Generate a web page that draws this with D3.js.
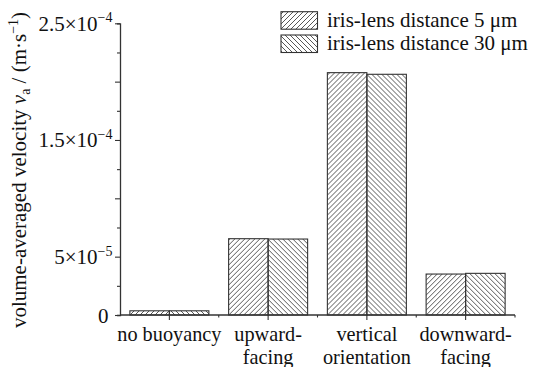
<!DOCTYPE html>
<html>
<head>
<meta charset="utf-8">
<script src="https://cdn.jsdelivr.net/npm/d3@7"></script>
<style>
  html, body { margin: 0; padding: 0; background: #fff; }
  svg { display: block; font-family: "Liberation Serif", "Times New Roman", serif; }
</style>
</head>
<body>
<svg id="chart" width="533" height="367"></svg>
<script>
// Chart data
const categories = [["no buoyancy"], ["upward-", "facing"], ["vertical", "orientation"], ["downward-", "facing"]];
const seriesNames = ["iris-lens distance 5 \u03bcm", "iris-lens distance 30 \u03bcm"];
const values5um = [3.6e-6, 6.54e-5, 2.077e-4, 3.51e-5];
const values30um = [3.6e-6, 6.51e-5, 2.063e-4, 3.57e-5];
const yTicks = [0, 2.5e-5, 5e-5, 7.5e-5, 1e-4, 1.25e-4, 1.5e-4, 1.75e-4, 2e-4, 2.25e-4, 2.5e-4];
// labelled ticks: [value, mantissa, exponent]
const yTickLabels = [[0, "0", null], [5e-5, "5\u00d710", "\u22125"], [1.5e-4, "1.5\u00d710", "\u22124"], [2.5e-4, "2.5\u00d710", "\u22124"]];

const svg = d3.select("#chart");
const x0 = 120, x1 = 515, yBase = 315, yTop = 23.3;
const FS = 21, FS_SMALL = 14, FS_CAT = 20.3;

// hatch patterns
const defs = svg.append("defs");
function hatch(id, d) {
  const p = defs.append("pattern").attr("id", id)
    .attr("patternUnits", "userSpaceOnUse").attr("width", 5).attr("height", 5);
  p.append("path").attr("d", d).attr("stroke", "#444").attr("stroke-width", 0.9).attr("fill", "none");
}
hatch("fwd", "M-1,1 L1,-1 M0,5 L5,0 M4,6 L6,4");
hatch("bwd", "M-1,4 L1,6 M0,0 L5,5 M4,-1 L6,1");
const fills = ["url(#fwd)", "url(#bwd)"];

const x = d3.scaleBand().domain(d3.range(categories.length)).range([x0, x1]).padding(0);
const xs = d3.scaleBand().domain([0, 1]).range([x.bandwidth() * 0.1, x.bandwidth() * 0.9]).padding(0);
const y = d3.scaleLinear().domain([0, 2.5e-4]).range([yBase, yTop]);

const series = [values5um, values30um];

// bars
const groups = svg.append("g").selectAll("g").data(categories).join("g")
  .attr("transform", (d, i) => `translate(${x(i)},0)`);
groups.selectAll("rect")
  .data((d, i) => series.map((s, k) => ({ k, v: s[i] })))
  .join("rect")
  .attr("x", d => xs(d.k))
  .attr("y", d => y(d.v))
  .attr("width", xs.bandwidth())
  .attr("height", d => yBase - y(d.v))
  .attr("fill", d => fills[d.k])
  .attr("stroke", "#333")
  .attr("stroke-width", 1.1);

// y axis: major ticks every 5e-5, minor ticks in between
const yAxis = d3.axisLeft(y).tickValues(yTicks).tickFormat("").tickSizeOuter(0).tickSize(3);
const gy = svg.append("g").attr("transform", `translate(${x0},0)`).call(yAxis);
gy.select(".domain").attr("stroke", "#333").attr("stroke-width", 1.3);
gy.selectAll(".tick line")
  .attr("stroke", "#333").attr("stroke-width", 1.1)
  .attr("x2", d => (Math.round(d / 2.5e-5) % 2 === 0 ? -5 : -3));

const labels = svg.append("g").attr("font-size", FS).attr("fill", "#111");
yTickLabels.forEach(([v, m, e]) => {
  const t = labels.append("text")
    .attr("x", e ? 112.5 : 108.5).attr("y", y(v) + 7.5)
    .attr("text-anchor", "end");
  t.append("tspan").text(m);
  if (e) t.append("tspan").attr("dy", -8.5).attr("font-size", FS_SMALL).text(e);
});

// x axis
svg.append("line").attr("x1", x0).attr("x2", x1).attr("y1", yBase).attr("y2", yBase)
  .attr("stroke", "#333").attr("stroke-width", 1.3);
const gx = svg.append("g");
categories.forEach((c, i) => {
  const cx = x(i) + x.bandwidth() / 2;
  gx.append("line").attr("x1", cx).attr("x2", cx).attr("y1", yBase).attr("y2", yBase + 5)
    .attr("stroke", "#333").attr("stroke-width", 1.1);
  const bx = x(i) + x.bandwidth();
  gx.append("line").attr("x1", bx).attr("x2", bx).attr("y1", yBase).attr("y2", yBase + 2.5)
    .attr("stroke", "#333").attr("stroke-width", 1.1);
  c.forEach((line, j) => {
    gx.append("text").attr("text-anchor", "middle").attr("font-size", FS_CAT).attr("fill", "#111")
      .attr("x", cx).attr("y", 341 + j * 22.6).text(line);
  });
});

// y axis title
const title = svg.append("text")
  .attr("transform", "translate(26,170) rotate(-90)")
  .attr("text-anchor", "middle").attr("font-size", FS).attr("fill", "#111");
title.append("tspan").text("volume-averaged velocity ");
title.append("tspan").attr("font-style", "italic").text("v");
title.append("tspan").attr("font-size", FS_SMALL).attr("dy", 4).text("a");
title.append("tspan").attr("dy", -4).text(" / (m\u00b7s");
title.append("tspan").attr("font-size", FS_SMALL).attr("dy", -8).text("\u22121");
title.append("tspan").attr("dy", 8).text(")");

// legend
const legend = svg.append("g");
seriesNames.forEach((name, k) => {
  const ly = 11.7 + k * 23.3;
  legend.append("rect").attr("x", 281).attr("y", ly).attr("width", 36.5).attr("height", 17.5)
    .attr("fill", fills[k]).attr("stroke", "#333").attr("stroke-width", 1.1);
  legend.append("text").attr("x", 327).attr("y", ly + 15).attr("font-size", FS).attr("fill", "#111")
    .text(name);
});
</script>
</body>
</html>
